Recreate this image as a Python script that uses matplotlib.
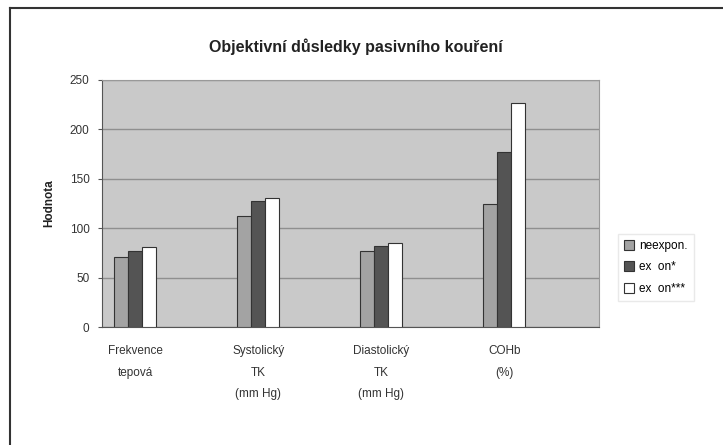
import numpy as np
import matplotlib.pyplot as plt

plt.rcParams['font.family'] = ['Liberation Sans', 'DejaVu Sans']

categories = ["Frekvence\ntepová", "Systolický\nTK\n(mm Hg)", "Diastolický\nTK\n(mm Hg)", "COHb\n(%)"]
series_names = ["neexpon.", "ex  on*", "ex  on***"]
neexpon = [71, 112, 77, 125]
expon_1 = [77, 128, 82, 177]
expon_3 = [81, 131, 85, 227]
yticks = [0, 50, 100, 150, 200, 250]

colors = ["#a3a3a3", "#545454", "#ffffff"]

fig = plt.figure(figsize=(7.23, 4.45), dpi=100)
ax = fig.add_axes([102 / 723, 1 - 327 / 445, 497 / 723, 247 / 445])

x = np.arange(len(categories))
w = 0.113
for i, (vals, name, c) in enumerate(zip([neexpon, expon_1, expon_3], series_names, colors)):
    ax.bar(x + (i - 1) * w, vals, width=w, color=c, edgecolor="#333333",
           linewidth=0.8, label=name, zorder=3)

ax.set_facecolor("#c9c9c9")
ax.set_ylim(0, 250)
ax.set_xlim(-0.27, 3.77)
ax.set_yticks(yticks)
ax.set_yticklabels([str(t) for t in yticks], fontsize=8.5, color="#333333")
ax.set_xticks(x)
ax.set_xticklabels(categories, fontsize=8.5, color="#333333", linespacing=2.05, va="top")
ax.tick_params(axis="x", length=0, pad=13)
ax.tick_params(axis="y", length=3, pad=6, color="#555555")
ax.yaxis.grid(True, color="#8f8f8f", linewidth=1.0, zorder=0)
for side in ["top", "right"]:
    ax.spines[side].set_color("#999999")
ax.spines["left"].set_color("#555555")
ax.spines["bottom"].set_color("#555555")

ax.set_ylabel("Hodnota", fontsize=8.5, fontweight="bold", color="#222222", labelpad=10)

fig.text(356 / 723, 1 - 47 / 445, "Objektivní důsledky pasivního kouření",
         ha="center", va="center", fontsize=11.5, fontweight="bold", color="#222222")

leg = fig.legend(loc="upper left", bbox_to_anchor=(612 / 723, 1 - 228 / 445),
                 fontsize=8.5, frameon=True, fancybox=False, edgecolor="#e4e4e4",
                 handlelength=0.9, handleheight=0.9, handletextpad=0.4,
                 labelspacing=0.8, borderpad=0.5)

# outer chart frame (left and top edges)
fig.add_artist(plt.Line2D([10 / 723, 10 / 723], [0, 1 - 8 / 445], color="#333333", linewidth=1.5))
fig.add_artist(plt.Line2D([10 / 723, 1], [1 - 8 / 445, 1 - 8 / 445], color="#333333", linewidth=1.5))

fig.savefig("out.png", dpi=100)
